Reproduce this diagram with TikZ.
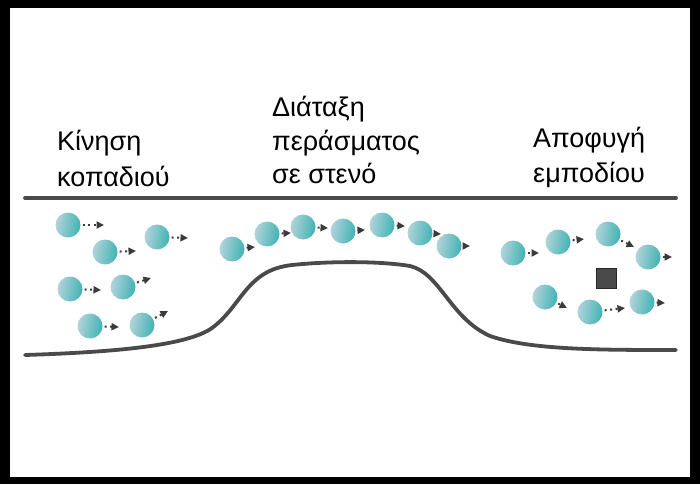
\documentclass[tikz,border=0pt]{standalone}
\usepackage{fontspec}
\setmainfont{Liberation Sans}
\usetikzlibrary{arrows.meta}
\definecolor{wall}{HTML}{4A4A4A}
\definecolor{balllight}{HTML}{B4D3DB}
\definecolor{balldark}{HTML}{3FB3B3}
\definecolor{arrowc}{HTML}{3A3A3A}
\tikzset{
  lbl/.style={font=\fontsize{27}{32}\selectfont, anchor=base west, inner sep=0pt},
  cell/.style={circle, minimum size=25pt, inner sep=0pt, left color=balllight, right color=balldark, shading angle=80},
  mv/.style={draw=arrowc, line width=2pt, dash pattern=on 2pt off 3.5pt, shorten <=2pt,
    -{Triangle[length=7.5pt,width=7pt,sep=0pt]}, arrowc},
  wallline/.style={draw=wall, line width=3.8pt, line cap=round}
}
\begin{document}
\begin{tikzpicture}[x=1pt,y=-1pt]
\fill[black] (0,0) rectangle (700,484);
\fill[white] (10,8) rectangle (690,477);
\useasboundingbox (0,0) rectangle (700,484);

% labels
\node[lbl] (l1a) at (57,150) {Κίνηση};
\node[lbl] (l1b) at (57,186) {κοπαδιού};
\node[lbl] (l2a) at (272,117) {Διάταξη};
\node[lbl] (l2b) at (272,150) {περάσματος};
\node[lbl] (l2c) at (272,183) {σε στενό};
\node[lbl] (l3a) at (533,147) {Αποφυγή};
\node[lbl] (l3b) at (533,182) {εμποδίου};

% walls
\coordinate (tw1) at (25,198);
\coordinate (tw2) at (676,198);
\draw[wallline] (tw1) -- (tw2);
\draw[wallline] (25,355) .. controls (120,352) and (188,345) .. (212,328)
  .. controls (242,306) and (246,270) .. (292,265)
  .. controls (330,261) and (380,261) .. (410,266)
  .. controls (440,273) and (450,318) .. (490,336)
  .. controls (530,350) and (600,350) .. (676,350);

% obstacle
\node[draw=black!85, fill=wall, line width=0.8pt, minimum size=20pt, inner sep=0pt] (obs) at (606,278) {};

% left group
\node[cell] (a1) at (68,225) {};  \coordinate (ha1) at (104,225);
\node[cell] (a2) at (105,252) {}; \coordinate (ha2) at (136,251);
\node[cell] (a3) at (157,237) {}; \coordinate (ha3) at (188,238);
\node[cell] (a4) at (70,289) {};  \coordinate (ha4) at (101,290);
\node[cell] (a5) at (123,287) {}; \coordinate (ha5) at (151,278);
\node[cell] (a6) at (90,326) {};  \coordinate (ha6) at (119,327);
\node[cell] (a7) at (142,325) {}; \coordinate (ha7) at (168,311);
\foreach \i in {1,...,7} \draw[mv] (a\i) -- (ha\i);

% middle group
\node[cell] (b1) at (232,249) {}; \coordinate (hb1) at (255,247);
\node[cell] (b2) at (267,234) {}; \coordinate (hb2) at (291,233);
\node[cell] (b3) at (303,227) {}; \coordinate (hb3) at (328,228);
\node[cell] (b4) at (343,231) {}; \coordinate (hb4) at (365,230);
\node[cell] (b5) at (382,225) {}; \coordinate (hb5) at (405,226);
\node[cell] (b6) at (420,233) {}; \coordinate (hb6) at (441,234);
\node[cell] (b7) at (449,246) {}; \coordinate (hb7) at (470,246);
\foreach \i in {1,...,7} \draw[mv] (b\i) -- (hb\i);

% right group
\node[cell] (c1) at (513,253) {}; \coordinate (hc1) at (539,253);
\node[cell] (c2) at (558,242) {}; \coordinate (hc2) at (584,239);
\node[cell] (c3) at (608,234) {}; \coordinate (hc3) at (634,247);
\node[cell] (c4) at (648,257) {}; \coordinate (hc4) at (672,257);
\node[cell] (c5) at (545,297) {}; \coordinate (hc5) at (567,308);
\node[cell] (c6) at (590,312) {}; \coordinate (hc6) at (625,308);
\node[cell] (c7) at (642,302) {}; \coordinate (hc7) at (665,303);
\foreach \i in {1,...,7} \draw[mv] (c\i) -- (hc\i);
\end{tikzpicture}
\end{document}
